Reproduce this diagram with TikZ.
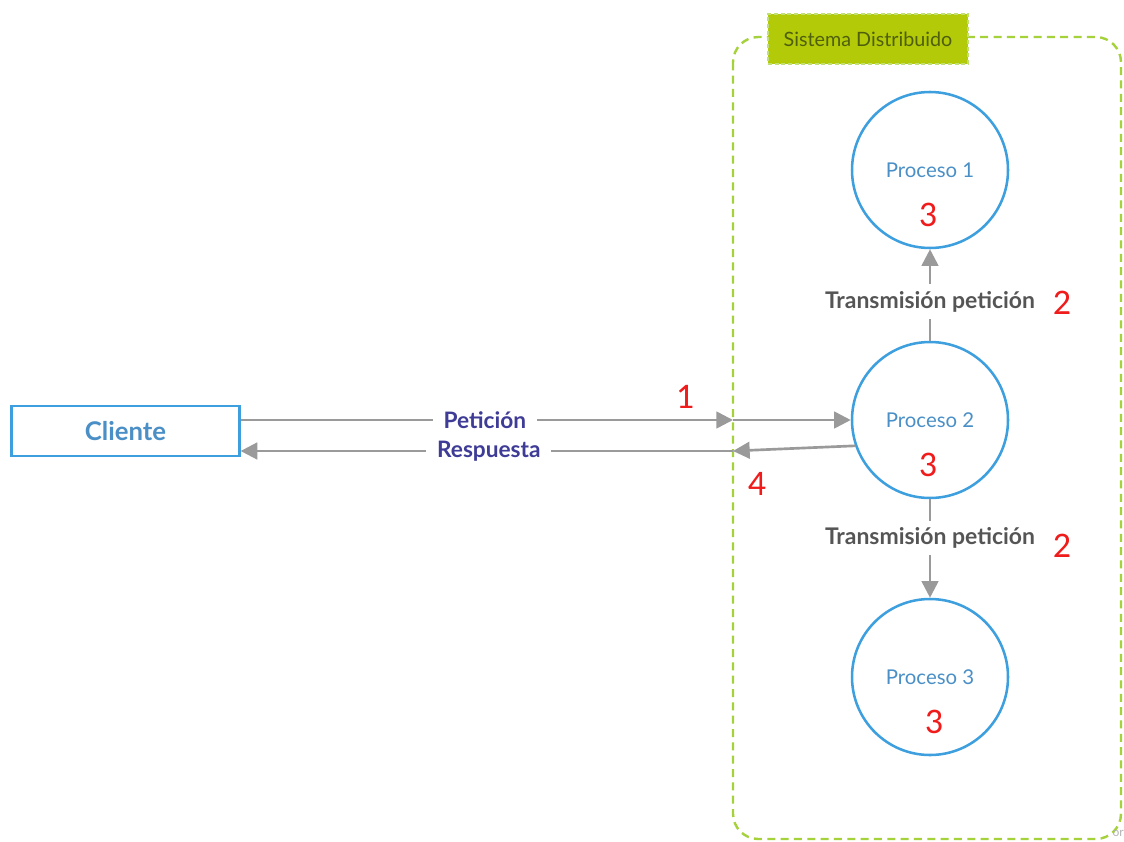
\documentclass[tikz,border=0pt]{standalone}
\usepackage{fontspec}
\setmainfont{Lato}
\newfontfamily\numfont{Carlito}
\usetikzlibrary{arrows.meta,calc}
\definecolor{procblue}{HTML}{3D9FDD}
\definecolor{proctext}{HTML}{4A8FC6}
\definecolor{flowgray}{HTML}{9A9A9A}
\definecolor{edgetext}{HTML}{3E3C96}
\definecolor{transtext}{HTML}{555555}
\definecolor{groupgreen}{HTML}{A5D13A}
\definecolor{tagfill}{HTML}{B3CA09}
\definecolor{tagtext}{HTML}{4F5F0C}
\definecolor{stepred}{HTML}{F01C1C}
\begin{document}
\begin{tikzpicture}[x=0.75pt,y=-0.75pt,
  proc/.style={circle,draw=procblue,line width=1.9pt,minimum size=117pt,inner sep=0pt,
    font=\fontsize{15.3}{17}\selectfont,text=proctext},
  flow/.style={draw=flowgray,line width=2pt,-{Triangle[length=12.5pt,width=12.5pt]},color=flowgray},
  flowlabel/.style={fill=white,inner xsep=8pt,inner ysep=2pt,font=\bfseries\fontsize{17}{19}\selectfont,text=edgetext},
  translabel/.style={fill=white,inner xsep=2pt,inner ysep=5pt,font=\bfseries\fontsize{17.2}{19}\selectfont,text=transtext},
  stepnum/.style={font=\numfont\fontsize{27}{29}\selectfont,text=stepred,inner sep=0pt}]
\useasboundingbox (0,0) rectangle (1124,842);
% distributed system frame
\draw[groupgreen,line width=1.8pt,dash pattern=on 6pt off 4pt,rounded corners=19pt]
  (733,37) rectangle (1121,839);
\node[draw=groupgreen!70,fill=tagfill,line width=1pt,dash pattern=on 3pt off 2pt,
  minimum width=150pt,minimum height=37.5pt,inner sep=0pt,
  font=\fontsize{14.8}{16}\selectfont,text=tagtext] (tag) at (868,39) {Sistema Distribuido};
% client
\node[draw=procblue,line width=1.7pt,fill=white,minimum width=171pt,minimum height=37.5pt,
  inner sep=0pt,font=\bfseries\fontsize{19.3}{21}\selectfont,text=proctext] (cli) at (125.5,431) {Cliente};
% processes
\node[proc] (p1) at (930,170) {Proceso 1};
\node[proc] (p2) at (930,420) {Proceso 2};
\node[proc] (p3) at (930,677) {Proceso 3};
\node[stepnum] (n3a) at (928,215) {3};
\node[stepnum] (n3b) at (928,465) {3};
\node[stepnum] (n3c) at (934,722) {3};
% boundary points on the frame
\coordinate (inA) at (733,420);
\coordinate (outA) at (733,451);
% request and response
\draw[flow] (cli.east |- inA) -- node[flowlabel,pos=0.4959] (pet) {Petición} (inA);
\draw[flow] (inA) -- (p2.west |- inA);
\draw[flow] (p2.199) -- (outA);
\draw[flow] (outA) -- node[flowlabel,pos=0.4959] (res) {Respuesta} (cli.east |- outA);
\node[stepnum] (n1) at (685,397) {1};
\node[stepnum] (n4) at (757,484) {4};
% forwarding between processes
\draw[flow] (p2.north) -- node[translabel,pos=0.43] (t1) {Transmisión petición} (p1.south);
\draw[flow] (p2.south) -- node[translabel,pos=0.39] (t2) {Transmisión petición} (p3.north);
\node[stepnum] (n2a) at (1062,303) {2};
\node[stepnum] (n2b) at (1062,546) {2};
\node[font=\fontsize{9}{10}\selectfont,text=gray!60,inner sep=0pt,anchor=east] (wm) at (1124,833) {or};
\end{tikzpicture}
\end{document}
